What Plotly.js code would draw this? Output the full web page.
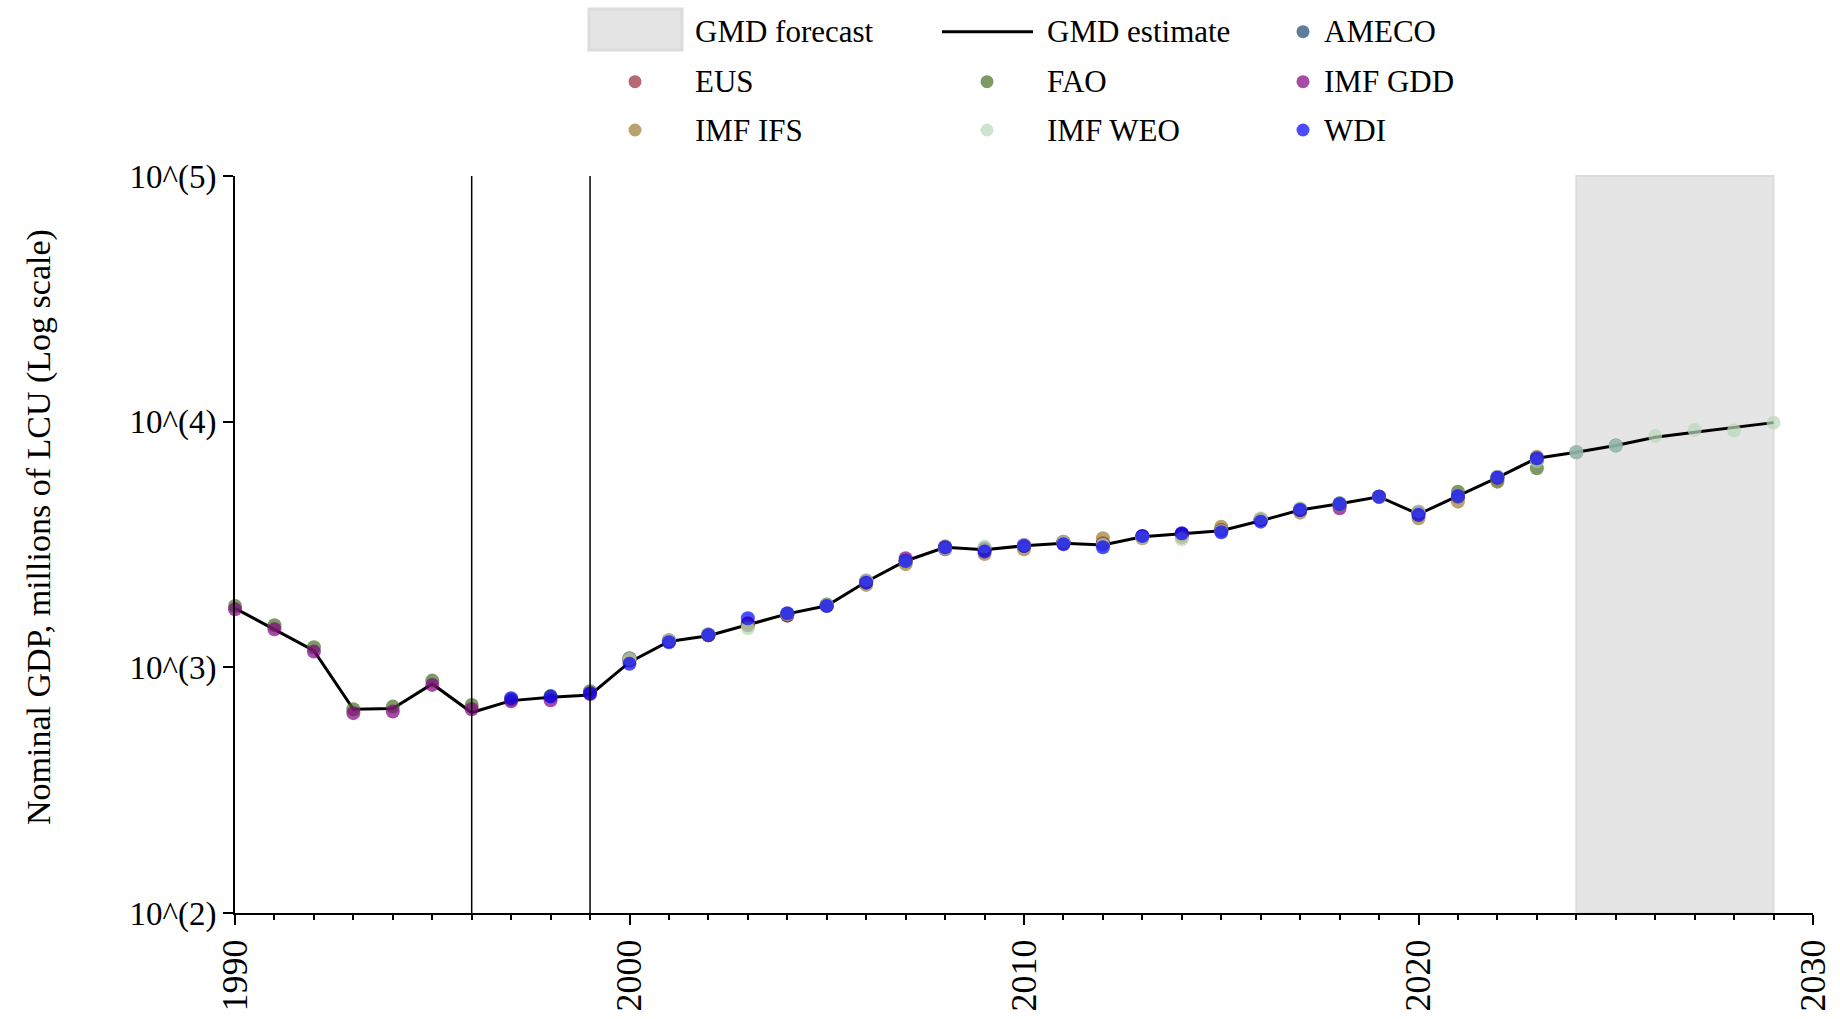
<!DOCTYPE html>
<html>
<head>
<meta charset="utf-8">
<script src="https://cdn.plot.ly/plotly-3.0.1.min.js"></script>
<style>
  html, body { margin: 0; padding: 0; background: #ffffff; }
  #chart { width: 1840px; height: 1019px; }
</style>
</head>
<body>
<div id="chart"></div>
<script>
// ---------------- DATA ----------------
function yearRange(a, b) { const r = []; for (let y = a; y <= b; y++) r.push(y); return r; }

const yearsEstimate = yearRange(1990, 2029);
const gmdEstimate = [1740, 1430, 1170, 675, 680, 856, 655, 732, 755, 772,
  1050, 1275, 1345, 1490, 1650, 1780, 2230, 2710, 3080, 3010,
  3125, 3200, 3150, 3400, 3500, 3600, 3950, 4370, 4630, 4950,
  4200, 4990, 5920, 7100, 7510, 8000, 8640, 9050, 9450, 9910];

const yearsAmeco = yearRange(2000, 2025);
const ameco = [1090, 1285, 1360, 1490, 1650, 1800, 2250, 2720, 3050, 3050,
  3140, 3230, 3180, 3400, 3470, 3620, 4000, 4400, 4650, 4950,
  4250, 4960, 5950, 6950, 7510, 8000];

const yearsEus = yearRange(2000, 2023);
const eus = [1065, 1280, 1350, 1500, 1630, 1790, 2230, 2700, 3050, 3020,
  3130, 3230, 3190, 3400, 3480, 3620, 4000, 4390, 4600, 4950,
  4240, 4960, 5930, 6950];

const yearsFao = yearRange(1990, 2023);
const fao = [1778, 1484, 1207, 675, 692, 883, 703, 740, 765, 800,
  1080, 1290, 1360, 1500, 1640, 1790, 2230, 2700, 3070, 3000,
  3120, 3210, 3160, 3400, 3500, 3600, 4000, 4400, 4630, 4950,
  4303, 5188, 5700, 6462];

const yearsGdd = yearRange(1990, 2022);
const imfGdd = [1722, 1429, 1159, 651, 661, 848, 675, 727, 734, 778,
  1075, 1280, 1350, 1510, 1623, 1785, 2240, 2780, 3025, 3000,
  3150, 3248, 3200, 3420, 3480, 3625, 4000, 4360, 4441, 4950,
  4250, 4950, 5950];

const yearsIfs = yearRange(2000, 2023);
const imfIfs = [1070, 1280, 1350, 1480, 1640, 1790, 2165, 2630, 3110, 2894,
  3025, 3200, 3353, 3353, 3380, 3737, 4000, 4263, 4581, 4950,
  4043, 4725, 5800, 7203];

const yearsWeo = yearRange(2000, 2029);
const imfWeo = [1080, 1290, 1365, 1443, 1650, 1795, 2268, 2700, 3040, 3100,
  3150, 3248, 3150, 3380, 3318, 3580, 4043, 4441, 4630, 4930,
  4303, 4990, 5970, 6918, 7506, 7988, 8746, 9252, 9206, 9910];

const yearsWdi = yearRange(1997, 2023);
const wdi = [749, 760, 784, 1033, 1265, 1355, 1584, 1660, 1778, 2212,
  2710, 3083, 2958, 3120, 3170, 3083, 3426, 3513, 3546, 3917,
  4372, 4624, 4953, 4172, 4985, 5918, 7096];

const forecastStart = 2024, forecastEnd = 2029;
const regimeBreaks = [1996, 1999];

const yTickVals = [100, 1000, 10000, 100000];
const yTickText = ['10^(2)', '10^(3)', '10^(4)', '10^(5)'];
const xTickVals = [1990, 2000, 2010, 2020, 2030];

const sourceNames = ['AMECO', 'EUS', 'FAO', 'IMF GDD', 'IMF IFS', 'IMF WEO', 'WDI'];
const sourceYears = [yearsAmeco, yearsEus, yearsFao, yearsGdd, yearsIfs, yearsWeo, yearsWdi];
const sourceValues = [ameco, eus, fao, imfGdd, imfIfs, imfWeo, wdi];
const sourceColors = ['#17476f', '#952a36', '#476f22', '#800080', '#9b7a31', '#b9d9bb', '#0000ff'];

const yTitle = 'Nominal GDP, millions of LCU (Log scale)';

// ---------------- LAYOUT GEOMETRY ----------------
const W = 1840, H = 1019;
const M = { l: 235, r: 27, t: 176, b: 106 };
const pw = W - M.l - M.r, ph = H - M.t - M.b;
const px = x => (x - M.l) / pw;
const py = y => (H - M.b - y) / ph;
const FONT = '"Liberation Serif", "Times New Roman", Times, serif';
const MARKER_OPACITY = 0.7;

// ---------------- TRACES ----------------
const traces = [{
  type: 'scatter', mode: 'lines', name: 'GMD estimate',
  x: yearsEstimate, y: gmdEstimate,
  line: { color: '#000000', width: 3 },
  showlegend: false, hoverinfo: 'skip'
}];
sourceNames.forEach((nm, i) => {
  traces.push({
    type: 'scatter', mode: 'markers', name: nm,
    x: sourceYears[i], y: sourceValues[i],
    marker: { size: 14, color: sourceColors[i], opacity: MARKER_OPACITY, line: { width: 0 } },
    cliponaxis: false, showlegend: false
  });
});

// ---------------- SHAPES ----------------
const shapes = [{
  type: 'rect', xref: 'x', yref: 'paper', x0: forecastStart, x1: forecastEnd, y0: 0, y1: 1,
  fillcolor: '#e5e5e5', line: { color: '#dcdcdc', width: 2 }, layer: 'below'
}];
regimeBreaks.forEach(b => shapes.push({
  type: 'line', xref: 'x', yref: 'paper', x0: b, x1: b, y0: 0, y1: 1,
  line: { color: '#000000', width: 1.5 }, layer: 'above'
}));

// ---------------- MANUAL LEGEND (3 columns x 3 rows) ----------------
const annotations = [];
const rowY = [31.7, 81.7, 130];
const colMarkerX = [635, 987, 1303];
const colTextX = [693, 1045, 1322];
function legendText(txt, x, y) {
  annotations.push({ text: txt, xref: 'paper', yref: 'paper', x: px(x), y: py(y),
    xanchor: 'left', yanchor: 'middle', showarrow: false,
    font: { family: FONT, size: 31, color: '#000000' } });
}
// forecast swatch
shapes.push({ type: 'rect', xref: 'paper', yref: 'paper', x0: px(589), x1: px(682), y0: py(50), y1: py(9),
  fillcolor: '#e5e5e5', line: { color: '#dcdcdc', width: 3 } });
legendText('GMD forecast', colTextX[0], rowY[0]);
// estimate line
shapes.push({ type: 'line', xref: 'paper', yref: 'paper', x0: px(942), x1: px(1033), y0: py(rowY[0]), y1: py(rowY[0]),
  line: { color: '#000000', width: 3 } });
legendText('GMD estimate', colTextX[1], rowY[0]);
// source markers
const slots = [[0, 2], [1, 0], [1, 1], [1, 2], [2, 0], [2, 1], [2, 2]];
sourceNames.forEach((nm, i) => {
  const [r, c] = slots[i];
  shapes.push({ type: 'circle', xref: 'paper', yref: 'paper', xsizemode: 'pixel', ysizemode: 'pixel',
    xanchor: px(colMarkerX[c]), yanchor: py(rowY[r]), x0: -6.5, x1: 6.5, y0: -6.5, y1: 6.5,
    fillcolor: sourceColors[i], opacity: MARKER_OPACITY, line: { width: 0 } });
  legendText(nm, colTextX[c], rowY[r]);
});

// y-axis title (placed as rotated text to match the reference position)
annotations.push({ text: yTitle, xref: 'paper', yref: 'paper', x: px(39), y: py(527),
  xanchor: 'center', yanchor: 'middle', textangle: -90, showarrow: false,
  font: { family: FONT, size: 34, color: '#000000' } });

// ---------------- LAYOUT ----------------
const layout = {
  width: W, height: H,
  margin: M,
  paper_bgcolor: '#ffffff', plot_bgcolor: '#ffffff',
  font: { family: FONT, color: '#000000' },
  showlegend: false,
  xaxis: {
    range: [1990, 2030], tickvals: xTickVals, ticktext: xTickVals.map(String),
    tickangle: -90, ticks: 'outside', ticklen: 10, tickwidth: 2, tickcolor: '#000000',
    minor: { dtick: 1, tick0: 1990, ticks: 'outside', ticklen: 5, tickwidth: 2, tickcolor: '#000000', showgrid: false },
    showline: true, linewidth: 2, linecolor: '#000000',
    showgrid: false, zeroline: false,
    tickfont: { family: FONT, size: 36, color: '#000000' }
  },
  yaxis: {
    type: 'log', range: [2, 5], tickvals: yTickVals, ticktext: yTickText,
    ticks: 'outside', ticklen: 10, tickwidth: 2, tickcolor: '#000000',
    showline: true, linewidth: 2, linecolor: '#000000',
    showgrid: false, zeroline: false,
    tickfont: { family: FONT, size: 33, color: '#000000' }
  },
  shapes: shapes,
  annotations: annotations
};

Plotly.newPlot('chart', traces, layout, { staticPlot: true, displayModeBar: false });
</script>
</body>
</html>
